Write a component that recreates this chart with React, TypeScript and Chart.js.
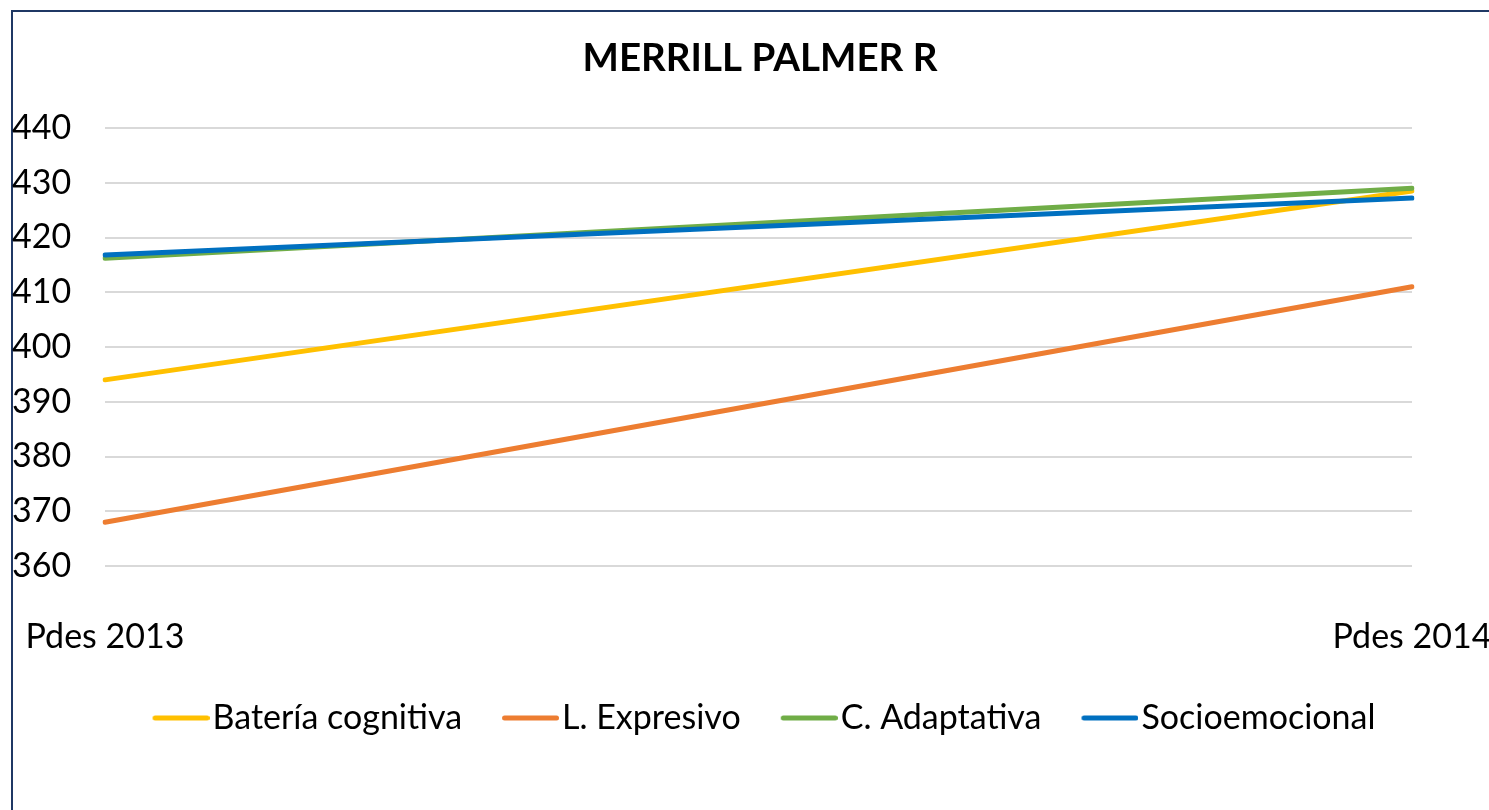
import React, { useEffect, useRef } from "react";
import { Chart, registerables } from "chart.js";

Chart.register(...registerables);

const title = "MERRILL PALMER R";
const categories = ["Pdes 2013", "Pdes 2014"];
const seriesNames = ["Batería cognitiva", "L. Expresivo", "C. Adaptativa", "Socioemocional"];
const bateriaCognitiva = [394, 428.5];
const lExpresivo = [368, 411];
const cAdaptativa = [416.2, 429];
const socioemocional = [416.8, 427.2];
const yMin = 360;
const yMax = 440;
const yStep = 10;

const colors = ["#FFC000", "#ED7D31", "#70AD47", "#0070C0"];
const FONT = "Lato, 'Noto Sans', sans-serif";

// legend swatch: a rounded line drawn on a small canvas
function makeSwatch(color: string): HTMLCanvasElement {
  const c = document.createElement("canvas");
  c.width = 71;
  c.height = 8;
  const ctx = c.getContext("2d")!;
  ctx.strokeStyle = color;
  ctx.lineWidth = 5;
  ctx.lineCap = "round";
  ctx.beginPath();
  ctx.moveTo(16.5, 4);
  ctx.lineTo(68.5, 4);
  ctx.stroke();
  return c;
}

const shiftPlugin = {
  id: "shiftBlocks",
  afterLayout(chart: any) {
    const t = chart.titleBlock;
    if (t) {
      t.left += 48;
      t.right += 48;
    }
    const l = chart.legend;
    if (l) {
      l.left += 52;
      l.right += 52;
    }
  },
};

export default function App() {
  const ref = useRef<HTMLCanvasElement | null>(null);

  useEffect(() => {
    if (!ref.current) return;
    const values = [bateriaCognitiva, lExpresivo, cAdaptativa, socioemocional];
    const orders = [3, 4, 2, 1];
    const chart = new Chart(ref.current, {
      type: "line",
      data: {
        labels: categories,
        datasets: seriesNames.map((name, i) => ({
          label: name,
          data: values[i],
          borderColor: colors[i],
          backgroundColor: colors[i],
          borderWidth: 5,
          pointRadius: 0,
          pointHoverRadius: 0,
          pointStyle: makeSwatch(colors[i]) as any,
          borderCapStyle: "round" as const,
          tension: 0,
          order: orders[i],
        })),
      },
      plugins: [shiftPlugin],
      options: {
        animation: false,
        responsive: false,
        maintainAspectRatio: false,
        layout: { padding: { left: 12, right: 77, top: 10, bottom: 65 } },
        plugins: {
          title: {
            display: true,
            text: title,
            color: "#000",
            font: { family: FONT, size: 38.5, weight: "bold" },
            padding: { top: 25.7, bottom: 46.1 },
          },
          legend: {
            display: true,
            position: "bottom",
            labels: {
              color: "#000",
              font: { family: FONT, size: 34 },
              usePointStyle: true,
              pointStyleWidth: 43,
              boxHeight: 8,
              padding: 40,
              sort: (a: any, b: any) => a.datasetIndex - b.datasetIndex,
            },
          },
          tooltip: { enabled: false },
        },
        scales: {
          x: {
            grid: { display: false },
            border: { display: false },
            ticks: {
              color: "#000",
              font: { family: FONT, size: 34 },
              maxRotation: 0,
              autoSkip: false,
              padding: 43,
            },
            afterFit: (s: any) => {
              s.height = 95;
              s.paddingLeft = 0;
              s.paddingRight = 0;
            },
          },
          y: {
            min: yMin,
            max: yMax,
            grid: { color: "#d9d9d9", lineWidth: 2, drawTicks: false },
            border: { display: false },
            ticks: {
              stepSize: yStep,
              color: "#000",
              font: { family: FONT, size: 34 },
              crossAlign: "far",
            },
            afterFit: (s: any) => {
              s.width = 93;
            },
          },
        },
      },
    });
    return () => chart.destroy();
  }, []);

  return (
    <div
      style={{
        position: "fixed",
        left: 0,
        top: 0,
        width: 1489,
        height: 810,
        overflow: "hidden",
        background: "#fff",
      }}
    >
      <div
        style={{
          position: "absolute",
          left: 11,
          top: 10,
          width: 1500,
          height: 820,
          border: "2px solid #1F3864",
          boxSizing: "border-box",
        }}
      />
      <canvas
        ref={ref}
        width={1489}
        height={810}
        style={{ position: "absolute", left: 0, top: 0, width: 1489, height: 810 }}
      />
    </div>
  );
}
